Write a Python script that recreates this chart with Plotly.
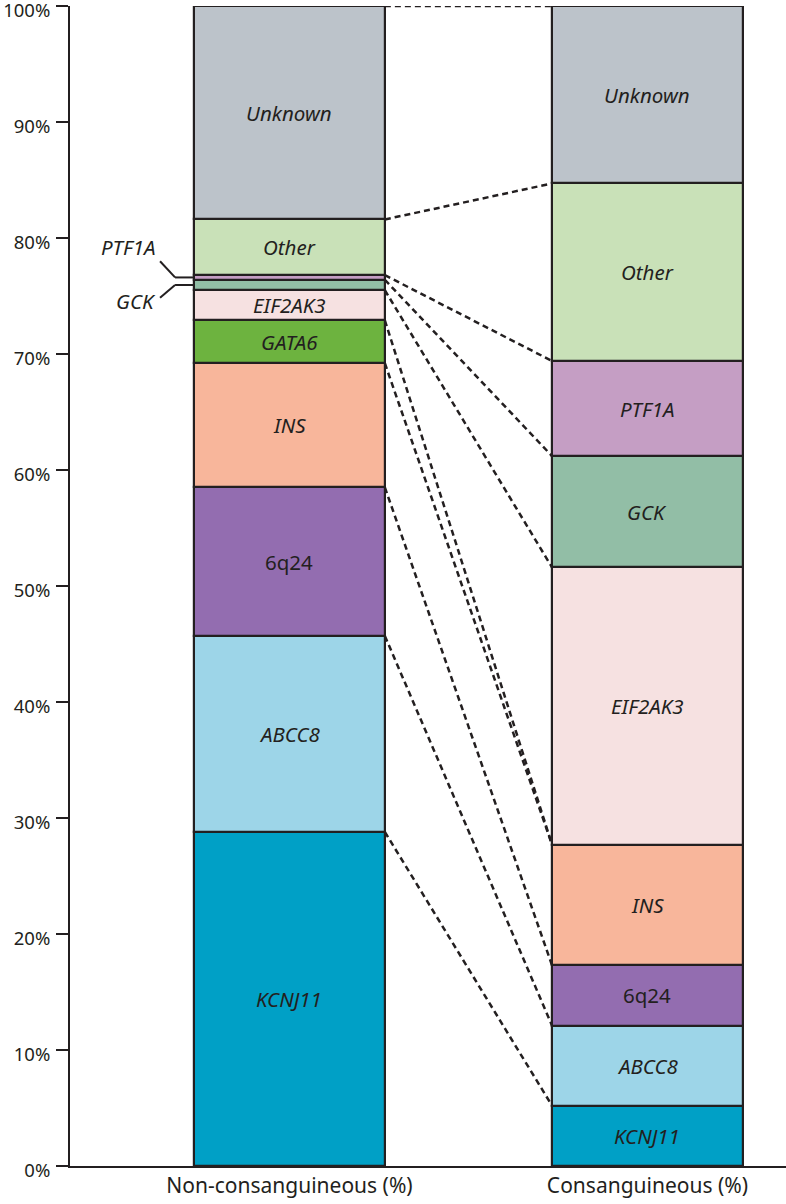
import plotly.graph_objects as go
import numpy as np

genes = ["KCNJ11", "ABCC8", "6q24", "INS", "GATA6", "EIF2AK3", "GCK", "PTF1A", "Other", "Unknown"]
non_consang = [28.8, 16.9, 12.8, 10.7, 3.7, 2.6, 0.9, 0.4, 4.8, 18.4]
consang = [5.2, 6.9, 5.2, 10.4, 0.0, 23.9, 9.6, 8.2, 15.3, 15.3]
colors = ["#00a0c6", "#9dd5e8", "#936db0", "#f8b69b", "#6db33f", "#f6e1e1",
          "#92bea6", "#c59ec4", "#c9e1b8", "#bcc3ca"]
categories = ["Non-consanguineous (%)", "Consanguineous (%)"]
tick_vals = list(range(0, 101, 10))
tick_text = [f"{v}%" for v in tick_vals]

FONT = "Noto Sans"
INK = "#231f20"
W = 0.533
xpos = [0, 1]

fig = go.Figure()
series = [non_consang, consang]
bases = [np.concatenate([[0], np.cumsum(s)[:-1]]) for s in series]
tops = [np.cumsum(s) for s in series]

for gi, g in enumerate(genes):
    fig.add_trace(go.Bar(
        x=xpos, y=[series[0][gi], series[1][gi]],
        base=[bases[0][gi], bases[1][gi]],
        width=W, marker=dict(color=colors[gi], line=dict(color=INK, width=2.2)),
        name=g, showlegend=False, hoverinfo="skip"))

# labels
for bi in range(2):
    for gi, g in enumerate(genes):
        v = series[bi][gi]
        if v < 2.0:
            continue
        txt = g if g == "6q24" else f"<i>{g}</i>"
        fig.add_annotation(x=xpos[bi], y=bases[bi][gi] + v / 2, text=txt,
                           showarrow=False, font=dict(family=FONT, size=20.5, color=INK),
                           xref="x", yref="y")

# external labels for tiny segments on left bar
edge = xpos[0] - W / 2
px = 1 / 358.0
for g, dy_label, dy_end in [("PTF1A", 2.6, 1.4), ("GCK", -1.35, -1.1)]:
    gi = genes.index(g)
    yc = bases[0][gi] + non_consang[gi] / 2
    fig.add_shape(type="line", xref="x", yref="y",
                  x0=edge, x1=edge - 19 * px, y0=yc, y1=yc,
                  line=dict(color=INK, width=2))
    fig.add_shape(type="line", xref="x", yref="y",
                  x0=edge - 19 * px, x1=edge - 34 * px, y0=yc, y1=yc + dy_end,
                  line=dict(color=INK, width=2))
    fig.add_annotation(x=edge - 36 * px, y=yc + dy_label, text=f"<i>{g}</i>",
                       showarrow=False, xanchor="right",
                       font=dict(family=FONT, size=20.5, color=INK))

# connecting dashed lines
x_left = xpos[0] + W / 2
x_right = xpos[1] - W / 2
conn = [100.0] + [tops[0][gi] for gi in range(len(genes) - 1)]
conn_r = [100.0] + [tops[1][gi] for gi in range(len(genes) - 1)]
for yl, yr in zip(conn, conn_r):
    fig.add_shape(type="line", xref="x", yref="y", x0=x_left, x1=x_right,
                  y0=yl, y1=yr, line=dict(color=INK, width=2.5, dash="6px,4px"),
                  layer="below")

fig.update_layout(
    width=786, height=1204,
    margin=dict(l=70, r=0, t=6, b=38, autoexpand=False),
    plot_bgcolor="white", paper_bgcolor="white",
    barmode="overlay", bargap=0,
    font=dict(family=FONT, color=INK),
)
fig.update_xaxes(range=[-0.613, 1.387], tickvals=xpos, ticktext=categories,
                 showline=True, linecolor=INK, linewidth=2, ticks="",
                 tickfont=dict(size=21, color=INK), showgrid=False, zeroline=False,
                 fixedrange=True, automargin=False)
fig.update_yaxes(range=[0, 100], tickvals=tick_vals, ticktext=tick_text,
                 showline=True, linecolor=INK, linewidth=2, ticks="outside",
                 ticklen=12, tickwidth=2, tickcolor=INK,
                 tickfont=dict(size=18.5, color=INK), showgrid=False, zeroline=False,
                 fixedrange=True, automargin=False, ticklabeloverflow="allow",
                 ticklabelshift=5, ticklabelstandoff=2)

fig.write_html("out.html", config={"displayModeBar": False},
               post_script="document.body.style.margin='0';document.body.style.overflow='hidden';")
